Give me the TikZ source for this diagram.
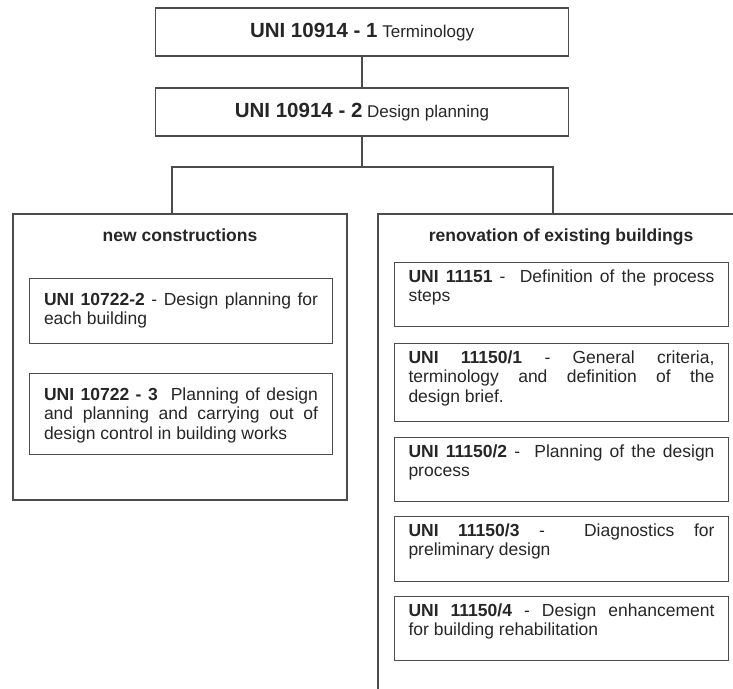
\documentclass[tikz,border=0pt]{standalone}
\usepackage{fontspec}
\setmainfont{Liberation Sans}
\hyphenpenalty=10000
\exhyphenpenalty=10000
\tolerance=9999

\begin{document}
\begin{tikzpicture}[x=1pt, y=-1pt, line width=1.1pt, color=black!70, text=black!85,
		font=\fontsize{17.5}{19.5}\selectfont,
		headbox/.style={draw, minimum width=413pt, minimum height=48pt, inner sep=0pt, font=\fontsize{17}{20}\selectfont},
		groupbox/.style={draw, inner sep=0pt},
		grouptitle/.style={anchor=base, font=\fontsize{17.5}{19.5}\selectfont\bfseries},
		stdbox/.style={draw, anchor=north west, align=justify, inner ysep=0pt, line width=1pt},
		newbox/.style={stdbox, text width=274pt, inner xsep=14.5pt, text height=26.5pt},
		renbox/.style={stdbox, text width=306pt, inner xsep=14pt, text height=19.5pt}]
			\useasboundingbox (0,0) rectangle (733,688);
			\clip (0,0) rectangle (733,688);
			\node[headbox] (term) at (362,32) {{\fontsize{20.5}{22}\selectfont\bfseries UNI 10914 - 1} Terminology};
			\node[headbox] (plan) at (362,112) {{\fontsize{20.5}{22}\selectfont\bfseries UNI 10914 - 2} Design planning};
			\coordinate (fork) at (362,167);
			\node[groupbox, minimum width=334pt, minimum height=286pt] (new) at (180,357) {};
			\node[groupbox, minimum width=366pt, minimum height=506pt] (ren) at (561,467) {};
			\node[grouptitle] (newt) at (180,241) {new constructions};
			\node[grouptitle] (rent) at (561,241) {renovation of existing buildings};
			% new constructions
			\node[newbox, text depth=38.5pt] (n1) at (29,278) {\textbf{UNI 10722-2} - Design planning for each building};
			\node[newbox, text depth=54.5pt] (n2) at (29,373) {\textbf{UNI 10722 - 3}\ \ Planning of design and planning and carrying out of design control in building works};
			% renovation
			\node[renbox, text depth=44.5pt] (r1) at (394,262) {\textbf{UNI 11151} -\ \ Definition of the process steps};
			\node[renbox, text depth=58.5pt] (r2) at (394,343) {\textbf{UNI 11150/1} - General criteria, terminology and definition of the\linebreak design brief.};
			\node[renbox, text depth=44.5pt] (r3) at (394,437) {\textbf{UNI 11150/2} -\ \ Planning of the design process};
			\node[renbox, text depth=45.5pt] (r4) at (394,516) {\textbf{UNI 11150/3} -\ \ Diagnostics for preliminary design};
			\node[renbox, text depth=44.5pt] (r5) at (394,596) {\textbf{UNI 11150/4} - Design enhancement\linebreak for building rehabilitation};
			\path[draw]
			(term) edge (plan)
			(plan) edge (fork);
			\draw ([xshift=-8pt]new.north) |- (fork) -| ([xshift=-8pt]ren.north);
		\end{tikzpicture}
\end{document}
